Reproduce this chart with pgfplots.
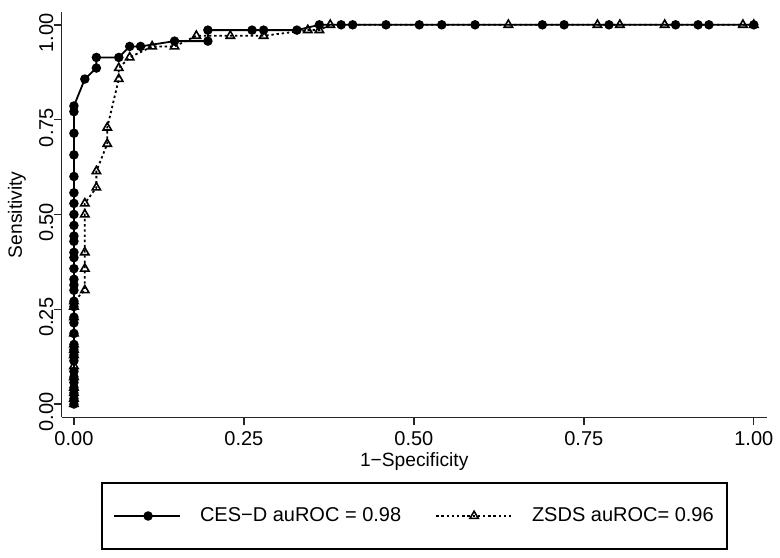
\documentclass[border=0pt]{standalone}
\usepackage{fontspec}
\setmainfont{Liberation Sans}
\usepackage{pgfplots}
\pgfplotsset{compat=1.18}
\pgfplotsset{
  ceslegend/.style={legend image code/.code={\draw[##1, mark repeat=2, mark phase=2] plot coordinates {(0pt,0pt) (17pt,0pt) (33pt,0pt)};}},
  zsdslegend/.style={legend image code/.code={\draw[##1, mark repeat=2, mark phase=2] plot coordinates {(0pt,0pt) (19pt,0pt) (38pt,0pt)};}},
}
\begin{document}
\fontsize{10}{12}\selectfont
\begin{tikzpicture}
\useasboundingbox (-30.85pt,-69.85pt) rectangle (359.15pt,208.65pt);
\begin{axis}[
  at={(0,0)}, anchor=south west,
  scale only axis,
  width=352.5pt, height=202.5pt,
  xmin=-0.018, xmax=1.019, ymin=-0.035, ymax=1.033,
  axis x line=bottom, axis y line=left,
  axis line style={-, line width=0.7pt, black!85},
  tick style={line width=0.7pt, black!85},
  tick align=outside, major tick length=4pt,
  xtick={0,0.25,0.5,0.75,1}, xticklabels={0.00,0.25,0.50,0.75,1.00},
  ytick={0,0.25,0.5,0.75,1}, yticklabels={0.00,0.25,0.50,0.75,1.00},
  xticklabel style={font=\fontsize{10}{12}\selectfont, inner sep=0pt, yshift=-2.8pt},
  yticklabel style={font=\fontsize{10}{12}\selectfont, rotate=90, anchor=south, inner sep=0pt, xshift=-4pt},
  xlabel={1−Specificity}, ylabel={Sensitivity},
  xlabel style={at={(axis description cs:0.5,-0.1104)}, anchor=center, font=\fontsize{9.6}{12}\selectfont},
  ylabel style={at={(axis description cs:-0.0634,0.5)}, anchor=center, font=\fontsize{9.6}{12}\selectfont},
  clip=false,
  legend columns=2, reverse legend,
  legend style={at={(axis description cs:0.5004,-0.2437)}, anchor=center,
    draw=black, line width=0.6pt, minimum width=312.5pt, minimum height=33pt,
    font=\fontsize{10}{12}\selectfont,
    nodes={minimum width=0pt, minimum height=0pt, inner sep=1pt, line width=0.6pt},
    /tikz/every odd column/.append style={column sep=8.5pt},
    /tikz/every even column/.append style={column sep=16pt}},
]
\addplot[black, line width=0.9pt, dash pattern=on 1.2pt off 1.4pt, mark=triangle, mark size=2.4pt, mark options={solid, line width=0.8pt, fill=none}, zsdslegend]
coordinates {
(0,0) (0,0.014) (0,0.029) (0,0.043) (0,0.071) (0,0.100) (0,0.129) (0,0.143) (0,0.157) (0,0.186) (0,0.229) (0,0.257) (0,0.271)
(0.016,0.300) (0.016,0.357) (0.016,0.400) (0.016,0.500) (0.016,0.529) (0.033,0.571) (0.033,0.614) (0.049,0.686) (0.049,0.729) (0.066,0.857) (0.066,0.886) (0.082,0.914) (0.115,0.943) (0.148,0.943) (0.180,0.971) (0.230,0.971) (0.279,0.971) (0.344,0.986) (0.361,0.986) (0.377,1) (0.639,1) (0.770,1) (0.803,1) (0.869,1) (0.984,1) (1,1)
};
\addlegendentry{ZSDS auROC= 0.96}
\addplot[black, line width=0.9pt, mark=*, mark size=1.9pt, ceslegend]
coordinates {
(0,0) (0,0.014) (0,0.029) (0,0.043) (0,0.057) (0,0.071) (0,0.086) (0,0.114) (0,0.129) (0,0.143) (0,0.157) (0,0.186) (0,0.214) (0,0.229) (0,0.257) (0,0.271) (0,0.300) (0,0.314) (0,0.329) (0,0.357) (0,0.386) (0,0.400) (0,0.429) (0,0.443) (0,0.471) (0,0.500) (0,0.529) (0,0.557) (0,0.600) (0,0.657) (0,0.714) (0,0.771) (0,0.786)
(0.016,0.857) (0.033,0.886) (0.033,0.914) (0.066,0.914) (0.082,0.943) (0.098,0.943) (0.148,0.957) (0.197,0.957) (0.197,0.986) (0.262,0.986) (0.279,0.986) (0.328,0.986) (0.361,1) (0.393,1) (0.410,1) (0.459,1) (0.508,1) (0.541,1) (0.590,1) (0.689,1) (0.721,1) (0.787,1) (0.885,1) (0.918,1) (0.934,1) (1,1)
};
\addlegendentry{CES−D auROC = 0.98}
\end{axis}
\end{tikzpicture}
\end{document}
